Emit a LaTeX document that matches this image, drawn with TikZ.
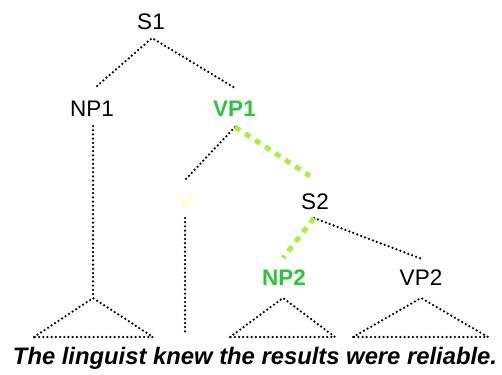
\documentclass[tikz,border=0pt]{standalone}
\usepackage{fontspec}
\setmainfont{Liberation Sans}
\definecolor{lbl}{HTML}{2EC43A}
\definecolor{hl}{HTML}{A8F040}
\definecolor{pale}{HTML}{FFFFC0}
\begin{document}
\begin{tikzpicture}[x=1pt,y=-1pt,
  lab/.style={font=\fontsize{22.5}{24}\selectfont, inner sep=0pt},
  glab/.style={lab, font=\fontsize{22.5}{24}\selectfont\bfseries, text=lbl},
  dots/.style={line width=2.5pt, line cap=round, dash pattern=on 0pt off 4.2pt},
  hilite/.style={hl, line width=5pt, dash pattern=on 6pt off 6pt}]
\useasboundingbox (0,0) rectangle (502,374);
% labels
\node[lab] (S1) at (151,22) {S1};
\node[lab] (NP1) at (92,109) {NP1};
\node[glab] (VP1) at (234.5,109) {VP1};
\node[lab, text=pale] (V) at (185.5,202) {V};
\node[lab] (S2) at (315,202) {S2};
\node[glab] (NP2) at (284,278) {NP2};
\node[lab] (VP2) at (421,278) {VP2};
\node[font=\fontsize{23.8}{26}\selectfont\bfseries\itshape, inner sep=0pt, anchor=base] (sent) at (255,364) {The linguist knew the results were reliable.};
% connector ends
\coordinate (S1b) at (152,38);
\coordinate (NP1t) at (97,86);
\coordinate (VP1t) at (235,88);
\coordinate (NP1b) at (93,126);
\coordinate (NP1a) at (93,298);
\coordinate (NP1l) at (34,337);
\coordinate (NP1r) at (153,337);
\coordinate (VP1b) at (235,127);
\coordinate (Vt) at (185,180);
\coordinate (Vb) at (185,218);
\coordinate (Ve) at (185,333);
\coordinate (S2t) at (310,176);
\coordinate (S2b) at (314,218);
\coordinate (NP2t) at (283,258);
\coordinate (VP2t) at (422,259);
\coordinate (NP2a) at (283,298);
\coordinate (NP2l) at (230,337);
\coordinate (NP2r) at (335,337);
\coordinate (VP2a) at (421,298);
\coordinate (VP2l) at (353,337);
\coordinate (VP2r) at (488,337);
% tree
\draw[dots] (NP1t) -- (S1b) -- (VP1t);
\draw[dots] (NP1b) -- (NP1a);
\draw[dots] (NP1l) -- (NP1a) -- (NP1r) -- cycle;
\draw[dots] (VP1b) -- (Vt);
\draw[dots] (Vb) -- (Ve);
\draw[dots] (S2b) -- (VP2t);
\draw[dots] (NP2l) -- (NP2a) -- (NP2r) -- cycle;
\draw[dots] (VP2l) -- (VP2a) -- (VP2r) -- cycle;
\draw[hilite] (VP1b) -- (S2t);
\draw[hilite] (S2b) -- (NP2t);
\end{tikzpicture}
\end{document}
